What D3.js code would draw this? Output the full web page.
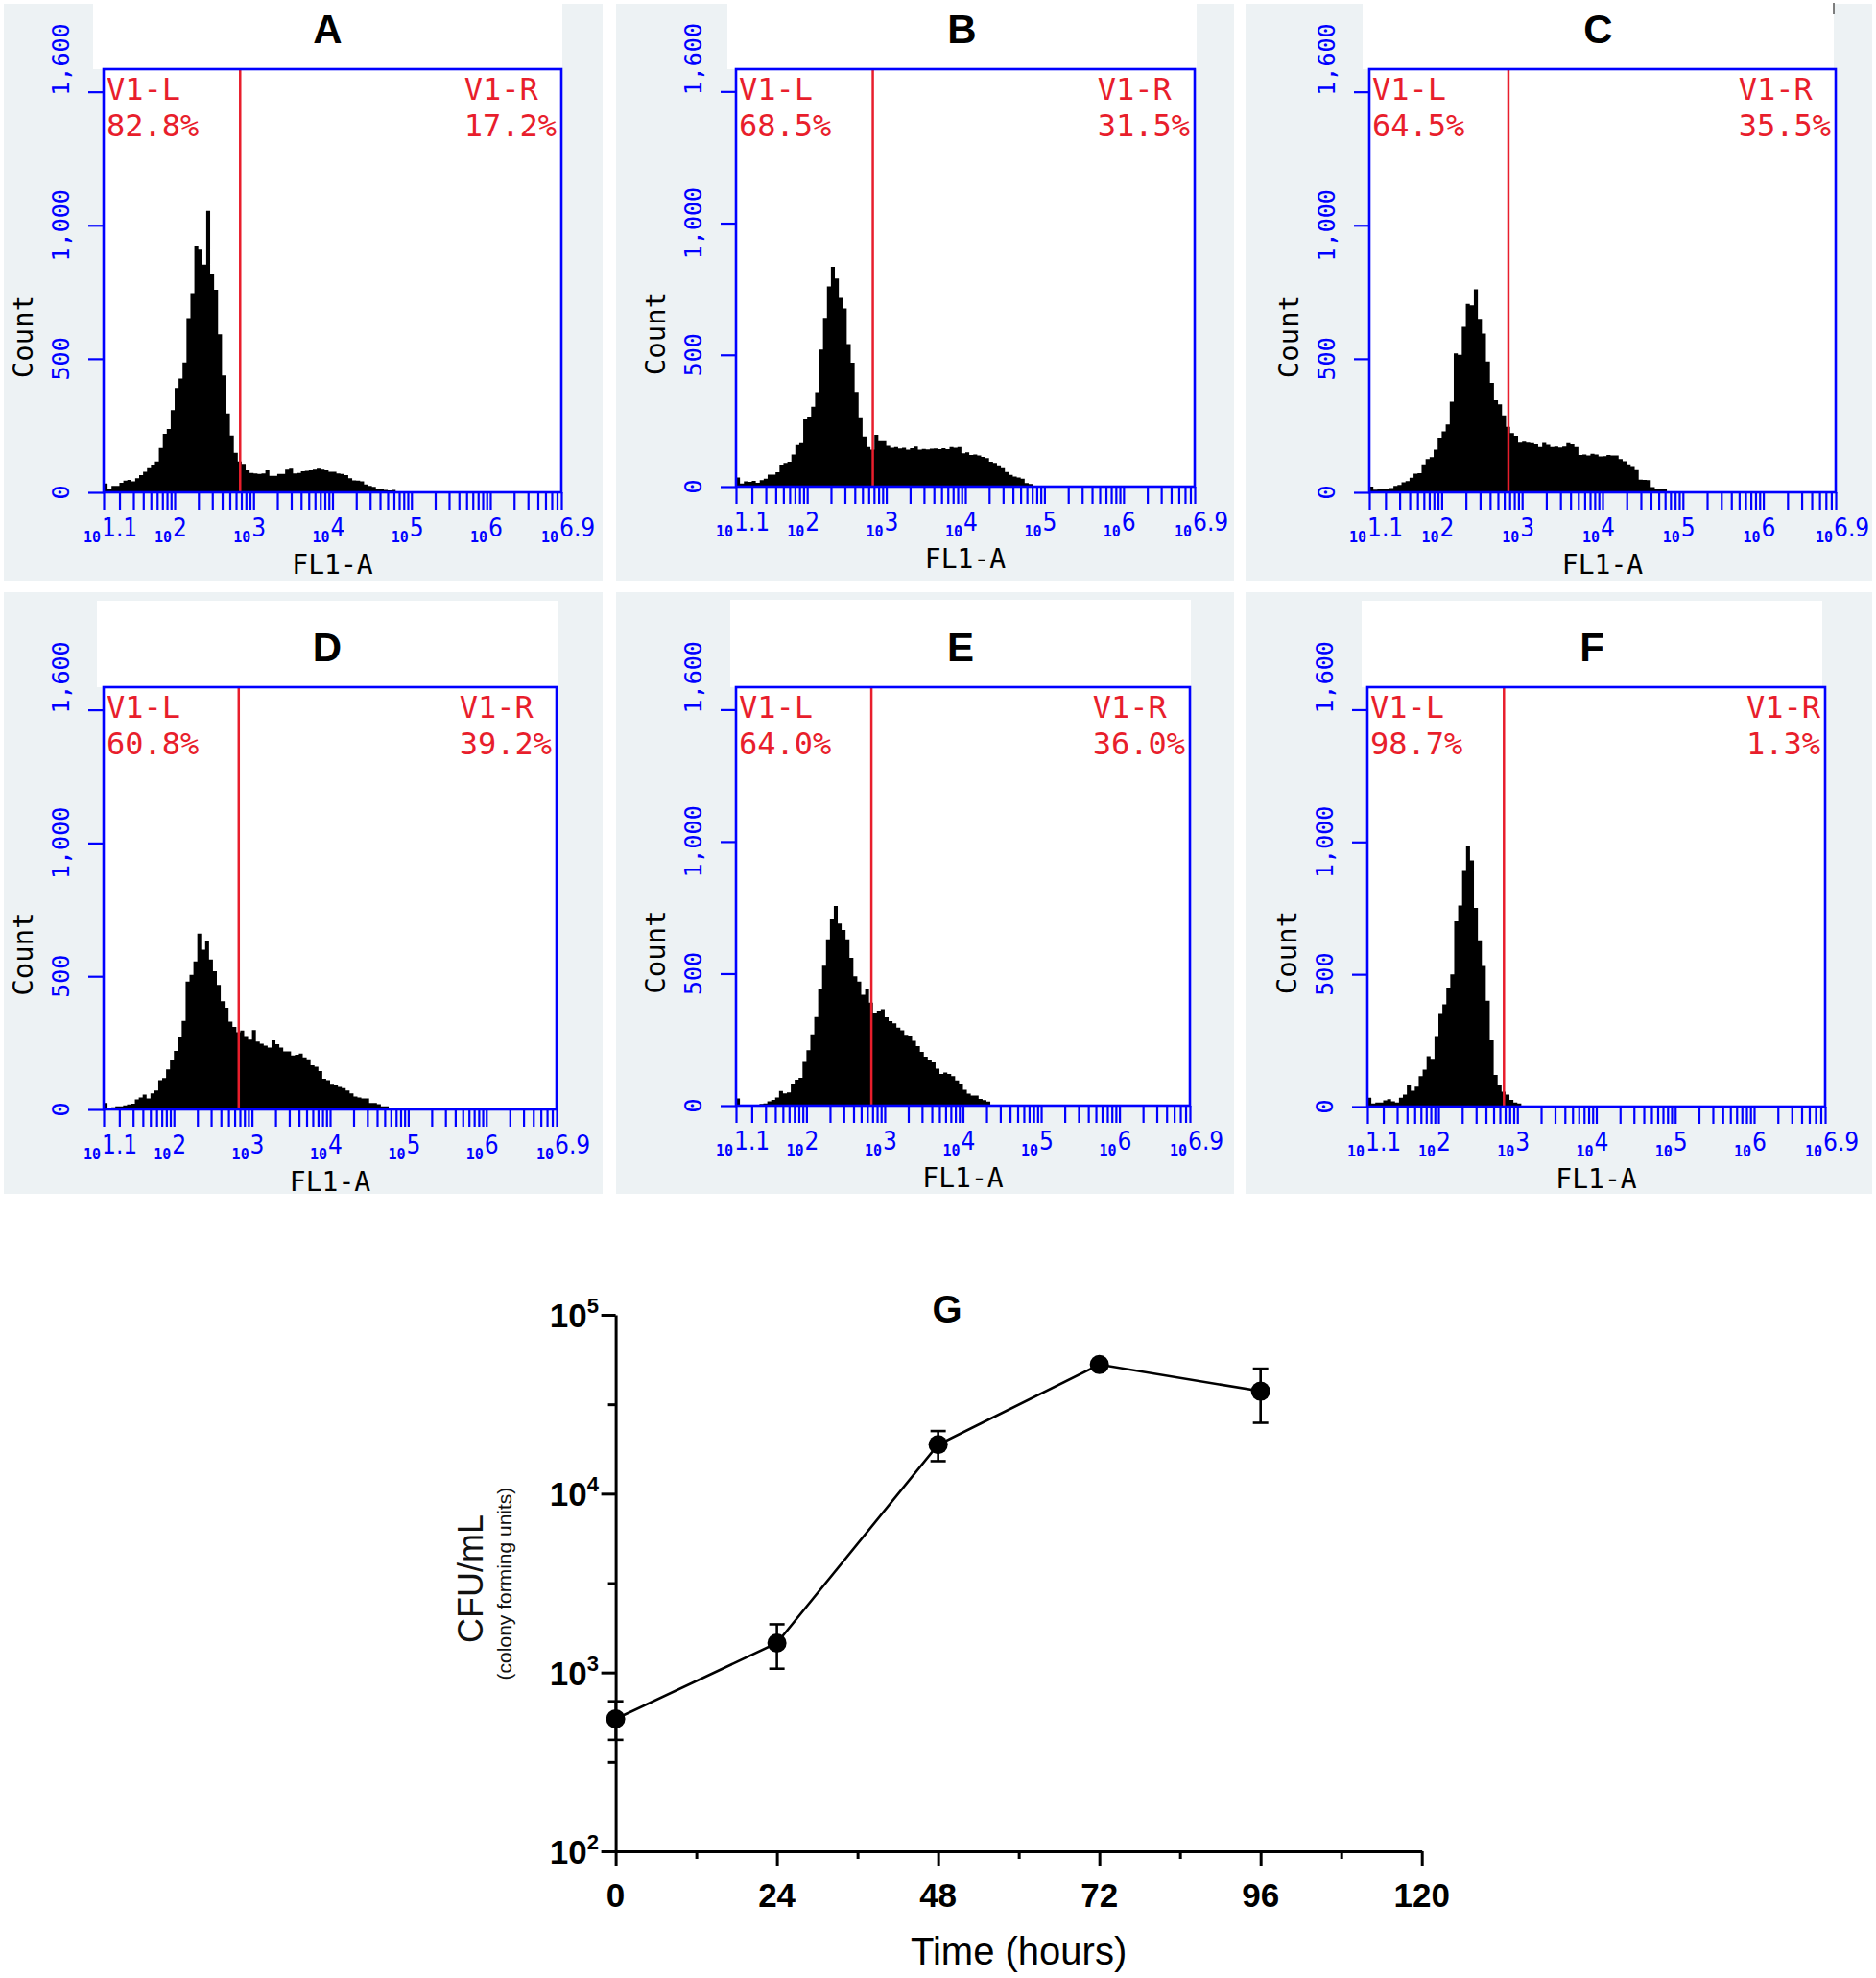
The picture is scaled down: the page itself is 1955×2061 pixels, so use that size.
<!DOCTYPE html>
<html><head><meta charset="utf-8">
<script src="https://cdn.jsdelivr.net/npm/d3@7"></script>
<style>body{margin:0;background:#fff}</style>
</head><body>
<svg id="chart" width="1955" height="2061"></svg>
<script>
// ---------------- DATA ----------------
const panelIds = ["A", "B", "C", "D", "E", "F"];
const binStartLog = 1.1;      // first histogram channel (log10 FL1-A)
const binStepLog = 0.05;      // channel width (decades)
const histA = [33,12,24,24,36,44,47,41,53,65,77,91,101,116,166,219,237,308,391,426,486,652,746,924,912,853,1054,817,758,592,438,296,213,148,116,107,83,73,71,69,71,83,62,62,69,69,85,89,71,73,79,81,83,85,89,85,83,77,77,71,69,65,53,45,44,41,30,24,21,12,12,9,7,9,4,2];
const histB = [35,12,20,18,22,15,25,30,46,46,55,80,90,95,122,158,165,255,265,303,359,520,640,760,834,790,720,676,541,470,360,260,190,150,140,197,176,176,155,148,150,145,148,140,146,152,140,143,141,144,145,142,146,142,150,148,150,127,130,120,122,118,113,108,95,90,77,70,56,45,38,35,30,14,10];
const histC = [22,10,14,14,14,16,24,28,38,42,55,70,72,105,125,132,160,205,228,254,340,520,515,620,705,700,760,650,595,490,410,345,330,288,245,222,212,186,190,186,184,180,170,185,178,170,172,168,172,184,180,170,140,142,138,145,142,135,136,140,138,138,125,117,105,95,84,48,47,46,20,14,14,12];
const histD = [24,3,8,12,12,15,19,22,38,45,56,41,60,71,110,118,150,185,220,270,332,480,505,556,660,600,630,563,519,467,406,382,330,310,290,296,276,262,298,255,247,240,232,259,245,232,218,218,203,205,210,195,188,166,160,144,115,110,93,90,85,80,71,60,49,45,41,41,24,24,20,12,12];
const histE = [27,0,0,0,0,4,6,8,16,22,31,55,46,50,83,98,105,165,210,270,335,440,530,630,705,756,690,665,630,560,490,470,420,440,390,352,360,365,334,320,312,295,285,268,265,245,225,204,185,172,164,140,120,125,120,112,95,80,60,45,38,38,25,21,15];
const histF = [34,12,15,15,24,28,20,15,34,45,80,60,75,115,140,190,180,267,350,386,450,500,700,760,890,984,930,751,628,531,400,250,120,80,56,45,25,15,12];
const gateValue = 676;   // V1 gate boundary on FL1-A
const gateLeftName = "V1-L";
const gateRightName = "V1-R";
const leftPct = ["82.8%", "68.5%", "64.5%", "60.8%", "64.0%", "98.7%"];
const rightPct = ["17.2%", "31.5%", "35.5%", "39.2%", "36.0%", "1.3%"];
const countTickValues = [0, 500, 1000, 1500];
const countTickLabels = ["0", "500", "1,000", "1,600"];
const countMax = 1585;
const flLogMin = 1.1, flLogMax = 6.9;
const flTickExponents = ["1.1", "2", "3", "4", "5", "6", "6.9"];

const timeHours = [0, 24, 48, 72, 96];
const cfuMean = [550, 1460, 18800, 52700, 37400];
const cfuLow  = [420, 1050, 15200, 52700, 24900];
const cfuHigh = [690, 1860, 22400, 52700, 50000];
const timeTicks = [0, 24, 48, 72, 96, 120];
const timeMinorTicks = [12, 36, 60, 84, 108];
const cfuTickExps = [2, 3, 4, 5];
const cfuMinorExps = [2.5, 3.5, 4.5];

// ---------------- LAYOUT ----------------
const hists = [histA, histB, histC, histD, histE, histF];
const layout = [
  {bg:[4,4,628,605],     white:[97,4,586,72],      L:108,  R:585,  T:72,  Z:513,  titleY:45},
  {bg:[642,4,1286,605],  white:[758,4,1247,72],    L:767,  R:1245, T:72,  Z:507,  titleY:45},
  {bg:[1298,4,1951,605], white:[1420,4,1911,72],   L:1427, R:1913, T:72,  Z:513,  titleY:45},
  {bg:[4,617,628,1244],  white:[101,626,581,716],  L:108,  R:580,  T:716, Z:1156, titleY:689},
  {bg:[642,617,1286,1244],white:[761,625,1241,716],L:767,  R:1240, T:716, Z:1152, titleY:689},
  {bg:[1298,617,1951,1244],white:[1419,626,1899,716],L:1425,R:1902,T:716, Z:1153, titleY:689}
];
const BLUE = "#0000ff", RED = "#e81e2c", PANELBG = "#edf2f4";
const MONO = "'DejaVu Sans Mono', monospace";
const COND = "'DejaVu Sans Condensed', 'DejaVu Sans', sans-serif";
const SANS = "'Liberation Sans', Arial, sans-serif";

const svg = d3.select("#chart");
svg.append("rect").attr("width",1955).attr("height",2061).attr("fill","#fff");

// minor log ticks for FL1-A
const flTicks = [10 ** flLogMin, 10 ** flLogMax];
for (let k = 1; k <= 6; k++) for (let m = 1; m <= 9; m++) {
  const v = m * 10 ** k, lv = Math.log10(v);
  if (lv > flLogMin && lv < flLogMax) flTicks.push(v);
}

panelIds.forEach((id, i) => {
  const p = layout[i];
  const g = svg.append("g");
  g.append("rect").attr("x", p.bg[0]).attr("y", p.bg[1])
    .attr("width", p.bg[2]-p.bg[0]).attr("height", p.bg[3]-p.bg[1]).attr("fill", PANELBG);
  g.append("rect").attr("x", p.white[0]).attr("y", p.white[1])
    .attr("width", p.white[2]-p.white[0]).attr("height", p.white[3]-p.white[1]).attr("fill", "#fff");
  g.append("rect").attr("x", p.L).attr("y", p.T).attr("width", p.R-p.L).attr("height", p.Z-p.T).attr("fill", "#fff");

  const x = d3.scaleLog().domain([10 ** flLogMin, 10 ** flLogMax]).range([p.L, p.R]);
  const y = d3.scaleLinear().domain([0, countMax]).range([p.Z, p.T]);

  // histogram as a stepped area (one path, no seams)
  const h = hists[i];
  const steps = h.map((v, j) => ({e: 10 ** (binStartLog + j * binStepLog), v}));
  steps.push({e: 10 ** (binStartLog + h.length * binStepLog), v: 0});
  g.append("path").datum(steps)
    .attr("d", d3.area().curve(d3.curveStepAfter).x(d => x(d.e)).y0(p.Z).y1(d => y(d.v)))
    .attr("fill", "#000");

  // gate line
  g.append("line").attr("x1", x(gateValue)).attr("x2", x(gateValue))
    .attr("y1", p.T).attr("y2", p.Z).attr("stroke", RED).attr("stroke-width", 2.5);

  // axes ticks
  const yAx = g.append("g").attr("transform", `translate(${p.L},0)`)
    .call(d3.axisLeft(y).tickValues(countTickValues).tickSize(16).tickFormat(""));
  const xAx = g.append("g").attr("transform", `translate(0,${p.Z})`)
    .call(d3.axisBottom(x).tickValues(flTicks).tickSize(18).tickFormat(""));
  [yAx, xAx].forEach(a => {
    a.select(".domain").remove();
    a.selectAll("line").attr("stroke", BLUE).attr("stroke-width", 2.2);
  });

  // frame
  g.append("rect").attr("x", p.L).attr("y", p.T).attr("width", p.R-p.L).attr("height", p.Z-p.T)
    .attr("fill", "none").attr("stroke", BLUE).attr("stroke-width", 2.6);

  // y tick labels
  countTickValues.forEach((v, k) => {
    const last = k === countTickValues.length - 1;
    const ty = last ? y(v) + 4 : y(v);
    g.append("text").attr("transform", `translate(${p.L-45},${ty}) rotate(-90)`)
      .attr("text-anchor", last ? "start" : "middle").attr("dominant-baseline", "central")
      .attr("font-family", MONO).attr("font-size", 25).attr("fill", BLUE)
      .text(countTickLabels[k]);
  });

  // x tick labels  (small "10" followed by exponent), one text element each
  flTickExponents.forEach(e => {
    const tx = x(10 ** parseFloat(e));
    const t = g.append("text").attr("y", p.Z + 46).attr("fill", BLUE);
    t.append("tspan").attr("x", tx - 21).attr("dy", 6).attr("font-family", MONO)
      .attr("font-size", 15).attr("font-weight", "bold").text("10");
    t.append("tspan").attr("x", tx - 2).attr("dy", -6).attr("font-family", COND)
      .attr("font-stretch", "condensed").attr("font-size", 26).text(e);
  });

  // axis titles
  g.append("text").attr("transform", `translate(${p.L-84},${(p.T+p.Z)/2+58}) rotate(-90)`)
    .attr("text-anchor", "middle").attr("dominant-baseline", "central")
    .attr("font-family", MONO).attr("font-size", 29).attr("fill", "#000").text("Count");
  g.append("text").attr("x", (p.L+p.R)/2).attr("y", p.Z + 85).attr("text-anchor", "middle")
    .attr("font-family", MONO).attr("font-size", 28).attr("fill", "#000").text("FL1-A");

  // gate region labels (two lines each)
  const lbl = (xx, yy, s) => g.append("text").attr("x", xx).attr("y", yy)
    .attr("font-family", MONO).attr("font-size", 32).attr("fill", RED).text(s);
  lbl(p.L + 3, p.T + 32, gateLeftName);
  lbl(p.L + 3, p.T + 70, leftPct[i]);
  const r1 = lbl(0, p.T + 32, gateRightName);
  const r2 = lbl(0, p.T + 70, rightPct[i]);
  const w = Math.max(r1.node().getComputedTextLength(), r2.node().getComputedTextLength());
  r1.attr("x", p.R - 5 - w); r2.attr("x", p.R - 5 - w);

  // panel title
  g.append("text").attr("x", (p.white[0]+p.white[2])/2).attr("y", p.titleY)
    .attr("text-anchor", "middle").attr("font-family", SANS).attr("font-weight", "bold")
    .attr("font-size", 42).attr("fill", "#000").text(id);
});

// small stray mark at top-right of panel C
svg.append("line").attr("x1", 1911).attr("x2", 1911).attr("y1", 3).attr("y2", 15)
  .attr("stroke", "#555").attr("stroke-width", 1.5);

// ---------------- PANEL G ----------------
const G = svg.append("g");
const gx = d3.scaleLinear().domain([0, 120]).range([641.6, 1481.7]);
const gy = d3.scaleLog().domain([100, 100000]).range([1929, 1370]);

const xMaj = G.append("g").attr("transform", `translate(0,${gy(100)})`)
  .call(d3.axisBottom(gx).tickValues(timeTicks).tickSize(15).tickSizeOuter(0).tickFormat(""));
const xMin = G.append("g").attr("transform", `translate(0,${gy(100)})`)
  .call(d3.axisBottom(gx).tickValues(timeMinorTicks).tickSize(8).tickFormat(""));
const yMaj = G.append("g").attr("transform", `translate(${gx(0)},0)`)
  .call(d3.axisLeft(gy).tickValues(cfuTickExps.map(e => 10 ** e)).tickSize(15).tickSizeOuter(0).tickFormat(""));
const yMin = G.append("g").attr("transform", `translate(${gx(0)},0)`)
  .call(d3.axisLeft(gy).tickValues(cfuMinorExps.map(e => 10 ** e)).tickSize(8).tickFormat(""));
[xMaj, xMin, yMaj, yMin].forEach(a => {
  a.selectAll("line").attr("stroke", "#000").attr("stroke-width", 3);
  a.select(".domain").attr("stroke", "#000").attr("stroke-width", 3);
});
xMin.select(".domain").remove(); yMin.select(".domain").remove();

timeTicks.forEach(t => {
  G.append("text").attr("x", gx(t)).attr("y", 1987).attr("text-anchor", "middle")
    .attr("font-family", SANS).attr("font-weight", "bold").attr("font-size", 35).attr("fill", "#000").text(t);
});
cfuTickExps.forEach(e => {
  const t = G.append("text").attr("x", 624).attr("y", gy(10 ** e) + 13).attr("text-anchor", "end")
    .attr("font-family", SANS).attr("font-weight", "bold").attr("fill", "#000");
  t.append("tspan").attr("font-size", 35).text("10");
  t.append("tspan").attr("font-size", 22).attr("dy", -15).text(e);
});

const pts = timeHours.map((t, i) => ({t, v: cfuMean[i], lo: cfuLow[i], hi: cfuHigh[i]}));
G.append("path").datum(pts)
  .attr("d", d3.line().x(d => gx(d.t)).y(d => gy(d.v)))
  .attr("fill", "none").attr("stroke", "#000").attr("stroke-width", 2.6);
pts.filter(d => d.hi > d.lo).forEach(d => {
  const cx = gx(d.t);
  G.append("line").attr("x1", cx).attr("x2", cx).attr("y1", gy(d.lo)).attr("y2", gy(d.hi))
    .attr("stroke", "#000").attr("stroke-width", 2.6);
  [d.lo, d.hi].forEach(v => G.append("line").attr("x1", cx - 8).attr("x2", cx + 8)
    .attr("y1", gy(v)).attr("y2", gy(v)).attr("stroke", "#000").attr("stroke-width", 2.6));
});
G.selectAll("circle").data(pts).join("circle")
  .attr("cx", d => gx(d.t)).attr("cy", d => gy(d.v)).attr("r", 10).attr("fill", "#000");

G.append("text").attr("x", 987).attr("y", 1378).attr("text-anchor", "middle")
  .attr("font-family", SANS).attr("font-weight", "bold").attr("font-size", 40).attr("fill", "#000").text("G");
G.append("text").attr("x", (gx(0)+gx(120))/2).attr("y", 2047).attr("text-anchor", "middle")
  .attr("font-family", SANS).attr("font-size", 40).attr("fill", "#000").text("Time (hours)");
G.append("text").attr("transform", "translate(503,1645) rotate(-90)").attr("text-anchor", "middle")
  .attr("font-family", SANS).attr("font-size", 36).attr("fill", "#111").text("CFU/mL");
G.append("text").attr("transform", "translate(533,1650) rotate(-90)").attr("text-anchor", "middle")
  .attr("font-family", SANS).attr("font-size", 21).attr("fill", "#111").text("(colony forming units)");
</script>
</body></html>
